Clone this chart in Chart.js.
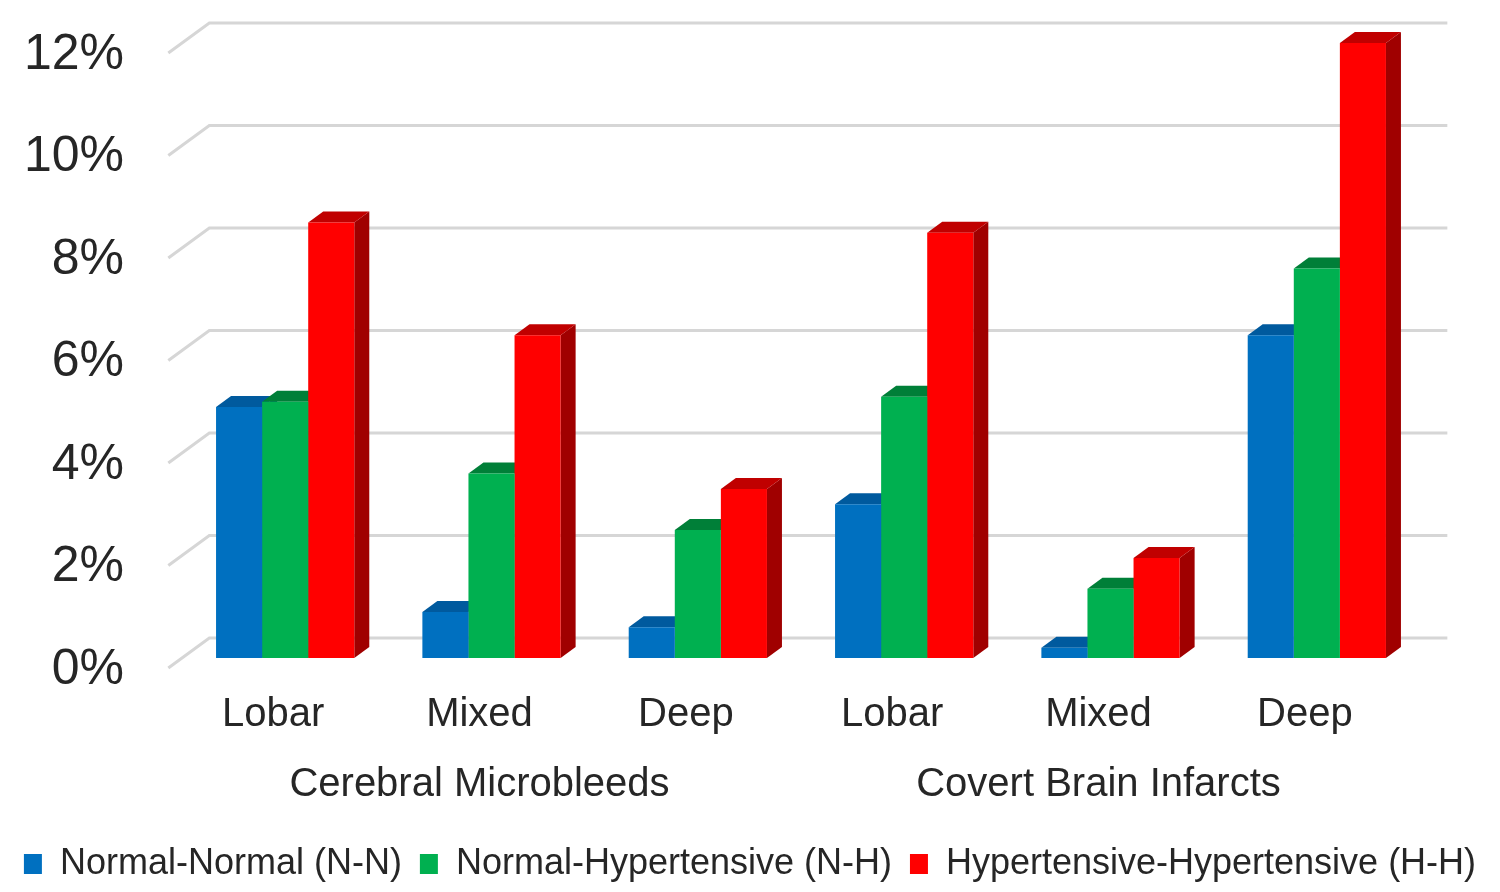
<!DOCTYPE html>
<html><head><meta charset="utf-8">
<script src="https://cdn.jsdelivr.net/npm/chart.js@4.4.1/dist/chart.umd.min.js"></script>
<style>html,body{margin:0;padding:0;background:#fff;} canvas{display:block;}</style>
</head><body>
<canvas id="c" width="1500" height="892"></canvas>
<script>
const categories = ['Lobar', 'Mixed', 'Deep', 'Lobar', 'Mixed', 'Deep'];
const groups = ['Cerebral Microbleeds', 'Covert Brain Infarcts'];
const seriesNames = ['Normal-Normal (N-N)', 'Normal-Hypertensive (N-H)', 'Hypertensive-Hypertensive (H-H)'];
const nnValues = [4.9, 0.9, 0.6, 3.0, 0.2, 6.3];
const nhValues = [5.0, 3.6, 2.5, 5.1, 1.35, 7.6];
const hhValues = [8.5, 6.3, 3.3, 8.3, 1.95, 12.0];
const yTicks = [0, 2, 4, 6, 8, 10, 12];

const FONT = '"Liberation Sans", Arial, sans-serif';
const TEXT = '#262626';
const frontColors = ['#0070c0', '#00b050', '#ff0000'];
const topColors = ['#005a9e', '#007f38', '#c00000'];
const sideColors = ['#004f8a', '#006e30', '#a00000'];
const BAR_DX = 15, BAR_DY = 11;      // bar depth
const FLOOR_DX = 41, FLOOR_DY = 30;  // wall depth
const PLANE = 1 / 3;                 // bar plane position from front

const threeD = {
  id: 'threeD',
  beforeDatasetsDraw(chart) {
    const ctx = chart.ctx, ya = chart.scales.y, ca = chart.chartArea;
    const offX = FLOOR_DX * PLANE, offY = FLOOR_DY * PLANE;
    const backDX = FLOOR_DX - offX, backDY = FLOOR_DY - offY;
    ctx.save();
    ctx.strokeStyle = '#d6d6d6';
    ctx.lineWidth = 3;
    ya.ticks.forEach(t => {
      const y = ya.getPixelForValue(t.value);
      ctx.beginPath();
      ctx.moveTo(ca.left - offX, y + offY);
      ctx.lineTo(ca.left + backDX, y - backDY);
      ctx.lineTo(ca.right + backDX, y - backDY);
      ctx.stroke();
    });
    const n = chart.data.labels.length;
    for (let i = 0; i < n; i++) {
      chart.data.datasets.forEach((ds, di) => {
        const el = chart.getDatasetMeta(di).data[i];
        const l = el.x - el.width / 2, r = el.x + el.width / 2, t = el.y, b = el.base;
        ctx.fillStyle = sideColors[di];
        ctx.beginPath();
        ctx.moveTo(r, t); ctx.lineTo(r + BAR_DX, t - BAR_DY);
        ctx.lineTo(r + BAR_DX, b - BAR_DY); ctx.lineTo(r, b);
        ctx.closePath(); ctx.fill();
        ctx.fillStyle = topColors[di];
        ctx.beginPath();
        ctx.moveTo(l, t); ctx.lineTo(l + BAR_DX, t - BAR_DY);
        ctx.lineTo(r + BAR_DX, t - BAR_DY); ctx.lineTo(r, t);
        ctx.closePath(); ctx.fill();
      });
    }
    ctx.restore();
  }
};

const seriesValues = [nnValues, nhValues, hhValues];
new Chart(document.getElementById('c'), {
  type: 'bar',
  data: {
    labels: categories,
    datasets: seriesNames.map((name, i) => ({
      label: name,
      data: seriesValues[i],
      backgroundColor: frontColors[i],
      borderWidth: 0,
      categoryPercentage: 0.67,
      barPercentage: 1.0
    }))
  },
  options: {
    responsive: false,
    animation: false,
    devicePixelRatio: 1,
    layout: { padding: { top: 43, left: 0, right: 0, bottom: 0 } },
    plugins: {
      tooltip: { enabled: false },
      legend: {
        position: 'bottom',
        labels: {
          font: { size: 36, family: FONT },
          color: TEXT,
          boxWidth: 18,
          boxHeight: 20,
          padding: 18
        }
      }
    },
    scales: {
      x: {
        type: 'category',
        offset: true,
        weight: 0,
        grid: { display: false, drawTicks: false },
        border: { display: false },
        ticks: { font: { size: 40, family: FONT }, color: TEXT, labelOffset: -12, padding: 33, maxRotation: 0, autoSkip: false },
        afterFit(s) { s.height = 93; }
      },
      x2: {
        type: 'category',
        labels: groups,
        position: 'bottom',
        offset: true,
        weight: 1,
        grid: { display: false, drawTicks: false },
        border: { display: false },
        ticks: { font: { size: 40, family: FONT }, color: TEXT, labelOffset: -12, padding: 10, maxRotation: 0, autoSkip: false },
        afterFit(s) { s.height = 77; }
      },
      y: {
        min: 0,
        max: 12,
        grid: { display: false, drawTicks: false },
        border: { display: false },
        afterBuildTicks(s) { s.ticks = yTicks.map(v => ({ value: v })); },
        ticks: { font: { size: 50, family: FONT }, color: TEXT, padding: 58, labelOffset: 12, callback: v => v + '%' },
        afterFit(s) { s.width = 182; s.paddingTop = 0; s.paddingBottom = 0; }
      },
      yRight: {
        type: 'linear',
        position: 'right',
        min: 0,
        max: 12,
        grid: { display: false, drawTicks: false },
        border: { display: false },
        ticks: { display: false },
        afterFit(s) { s.width = 80; s.paddingTop = 0; s.paddingBottom = 0; }
      }
    }
  },
  plugins: [threeD]
});
</script>
</body></html>
